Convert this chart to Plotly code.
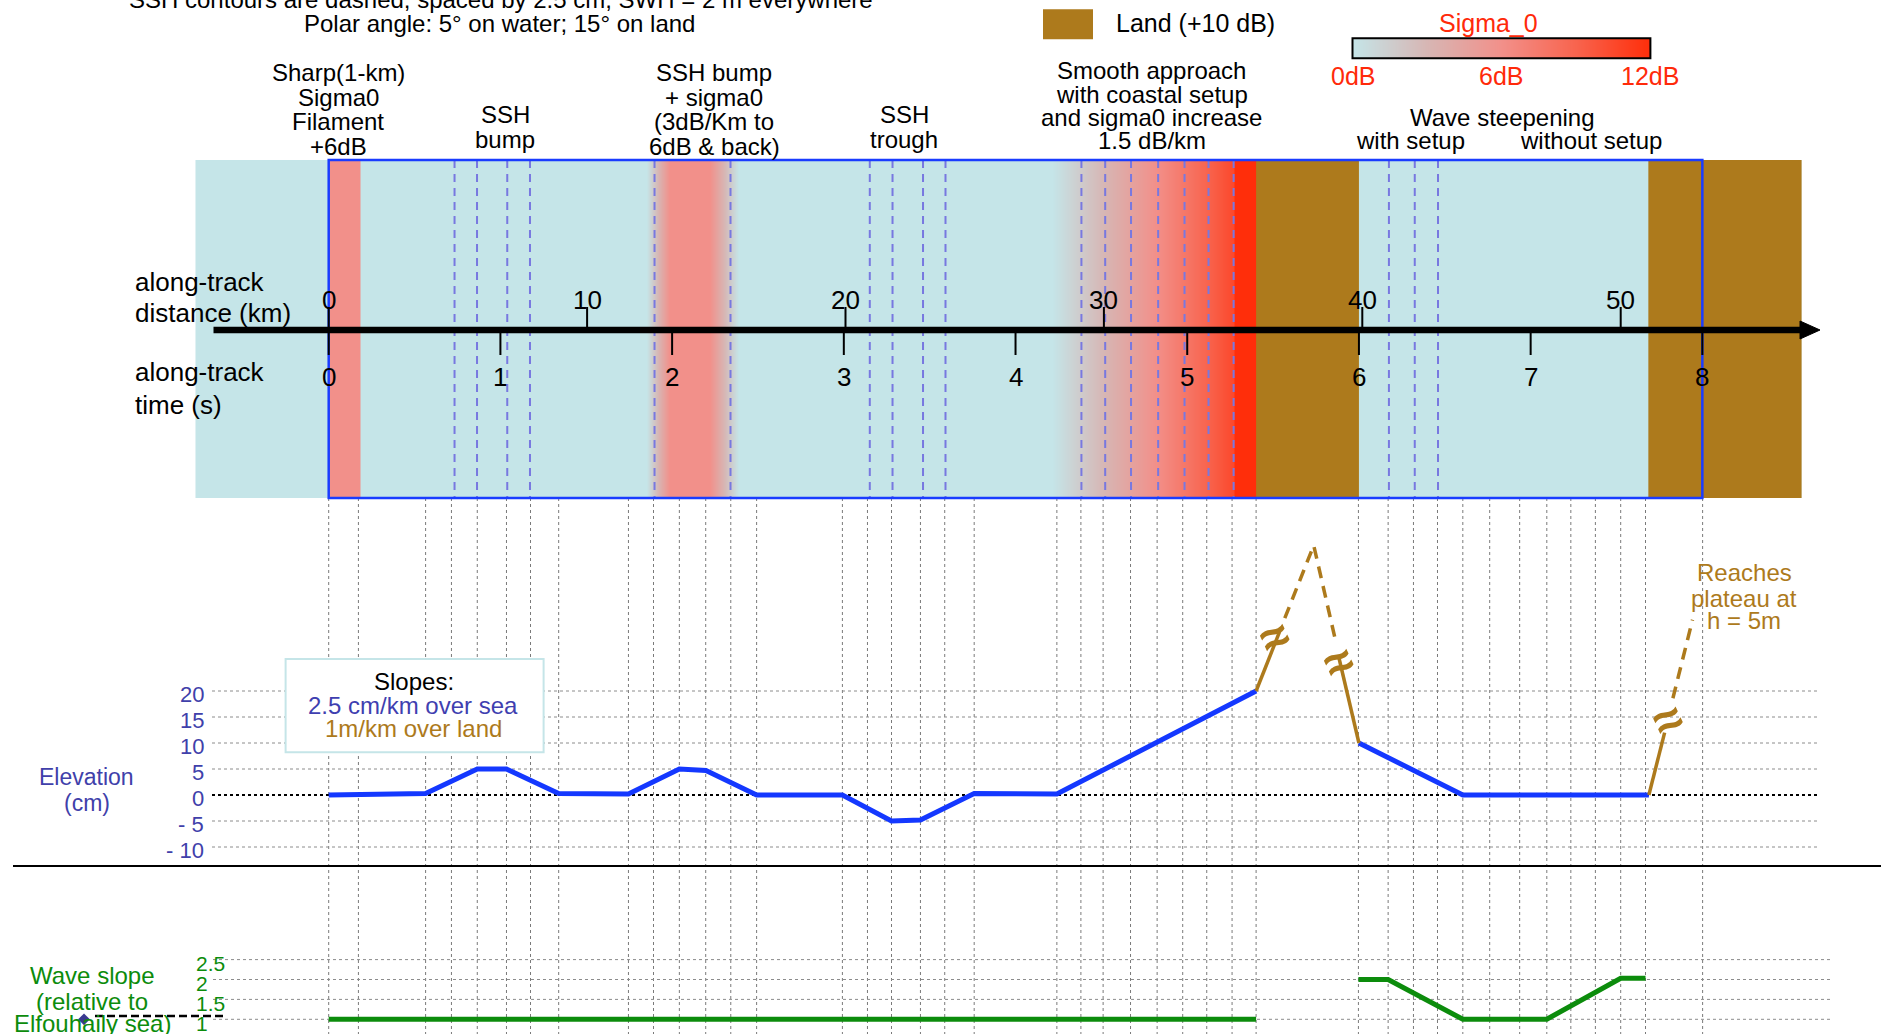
import plotly.graph_objects as go

# ---------------------------------------------------------------- data
dist_ticks_km = [0, 10, 20, 30, 40, 50]
time_ticks_s = [0, 1, 2, 3, 4, 5, 6, 7, 8]
KM_PER_S = 6.645

# sigma0 profile along track (km, dB) -- breakpoints read from the banner
sigma_km = [-5.15, -0.02, 0.0, 1.2, 1.22, 12.3, 13.2, 14.75, 15.85, 28.0, 35.0, 35.05, 35.89, 39.87, 57.0]
sigma_db = [0, 0, 6, 6, 0, 0, 6, 6, 0, 0, 10.5, 12, 12, 0, 0]

# land stretches (km)
land_start_km = [35.89, 51.07]
land_end_km = [39.87, 57.0]

# SSH contours (dashed), km
ssh_contour_km = [4.87, 5.74, 6.91, 7.79, 12.61, 15.55, 20.94, 21.82, 23.0, 23.87,
                  29.13, 30.05, 31.05, 32.1, 33.12, 34.05, 35.02, 41.03, 42.03, 42.93]

# vertical guide lines below the banner, km
guide_km = [0, 1.15, 3.75, 4.75, 5.75, 6.88, 7.81, 8.9, 11.6, 12.57, 13.57, 14.59, 15.56,
            16.56, 19.88, 20.85, 21.78, 22.9, 23.84, 24.98, 28.18, 29.11, 29.97, 31.03,
            32.06, 33.05, 33.98, 34.96, 35.89, 39.85, 41.0, 41.98, 42.91, 43.89, 44.93,
            46.09, 47.14, 48.07, 49.02, 50.0, 50.96, 53.17]

# sea-surface elevation (cm)
elev_km = [0, 3.75, 5.75, 6.88, 8.9, 11.6, 13.57, 14.6, 16.56, 19.88, 21.78, 22.9, 24.98,
           28.18, 35.89, None, 39.87, 43.89, 51.09]
elev_cm = [0, 0.3, 5, 5, 0.3, 0.2, 5, 4.7, 0, 0, -5, -4.8, 0.3, 0.2, 20, None, 10, 0, 0]

# land elevation (schematic, broken scale)
land_solid_km = [35.89, 36.8, None, 39.1, 39.87, None, 51.09, 51.7]
land_solid_cm = [20, 31.4, None, 26.3, 10, None, 0, 12.0]
land_dash_km = [37.0, 38.12, 38.95, None, 52.02, 52.78]
land_dash_cm = [34.0, 48, 30.0, None, 18.6, 33.7]
break_km = [36.62, 39.08, 51.8]
break_cm = [30.3, 25.5, 14.5]

# wave slope relative to Elfouhaily sea
wave_km = [0, 35.89, None, 39.85, 41.0, 43.89, 47.14, 50.0, 50.96]
wave_val = [1, 1, None, 2, 2, 1, 1, 2.03, 2.03]

elev_tick_vals = [20, 15, 10, 5, 0, -5, -10]
elev_tick_text = ["20", "15", "10", "5", "0", "- 5", "- 10"]
wave_tick_vals = [2.5, 2, 1.5, 1]
wave_tick_text = ["2.5", "2", "1.5", "1"]
cbar_ticks_db = [0, 6, 12]
cbar_tick_text = ["0dB", "6dB", "12dB"]

# ---------------------------------------------------------------- layout helpers
W, H = 1881, 1034
KM0_PX, PX_PER_KM = 328.7, 25.84
ELEV0_PX, PX_PER_CM = 795.0, 5.2
WAVE1_PX, PX_PER_WAVE = 1019.3, 39.8
BAN_TOP, BAN_BOT = 160.0, 498.0
AXIS_Y = 330.0

FONT = "Liberation Sans, Arial, sans-serif"
TEAL = "#C5E5E8"
BROWN = "#AD7A1C"
BLUE = "#1438FF"
PURPLE = "#4040AA"
GREEN = "#0C8C0C"
RED = "#FF2A0A"
CSCALE = [[0, TEAL], [0.25, "#D7B6B4"], [0.5, "#F2908A"], [0.75, "#F8644E"], [1, "#FF2E0A"]]


def km(xpx):
    return (xpx - KM0_PX) / PX_PER_KM


def pxx(x):
    return x / W


def pxy(y):
    return 1 - y / H


fig = go.Figure()

# ---------------------------------------------------------------- banner heatmap
hx = [sigma_km[0], sigma_km[0] + 0.01] + sigma_km[1:-1] + [sigma_km[-1] - 0.01, sigma_km[-1]]
hz = [sigma_db[0], sigma_db[0]] + sigma_db[1:-1] + [sigma_db[-1], sigma_db[-1]]
hy = [BAN_TOP + 0.25, BAN_TOP + 0.75, BAN_BOT - 0.75, BAN_BOT - 0.25]
fig.add_trace(go.Heatmap(x=hx, y=hy, z=[hz] * 4, zmin=0, zmax=12, colorscale=CSCALE,
                         zsmooth="best", showscale=False, hoverinfo="skip",
                         xaxis="x", yaxis="y"))

# colour bar (own small axes)
fig.add_trace(go.Heatmap(x=cbar_ticks_db, y=[0, 1], z=[cbar_ticks_db, cbar_ticks_db],
                         zmin=0, zmax=12, colorscale=CSCALE, zsmooth="best",
                         showscale=False, hoverinfo="skip", xaxis="x2", yaxis="y4"))

# ---------------------------------------------------------------- guide lines
gx, gy = [], []
for g in guide_km:
    gx += [g, g, None]
    gy += [BAN_BOT, H, None]
fig.add_trace(go.Scatter(x=gx, y=gy, mode="lines", yaxis="y",
                         line=dict(color="#7a7a7a", width=1, dash="dot"), hoverinfo="skip"))

ex, ey = [], []
for v in elev_tick_vals:
    if v != 0:
        ex += [km(212), km(1817), None]
        ey += [v, v, None]
fig.add_trace(go.Scatter(x=ex, y=ey, mode="lines", yaxis="y2",
                         line=dict(color="#8c8c8c", width=1, dash="dot"), hoverinfo="skip"))
fig.add_trace(go.Scatter(x=[km(212), km(1817)], y=[0, 0], mode="lines", yaxis="y2",
                         line=dict(color="black", width=2, dash="dot"), hoverinfo="skip"))

wx, wy = [], []
for v in wave_tick_vals:
    wx += [km(213), km(1833), None]
    wy += [v, v, None]
fig.add_trace(go.Scatter(x=wx, y=wy, mode="lines", yaxis="y3",
                         line=dict(color="#8c8c8c", width=1, dash="dot"), hoverinfo="skip"))
fig.add_trace(go.Scatter(x=[km(95), km(227)], y=[1.08, 1.08], mode="lines", yaxis="y3",
                         line=dict(color="black", width=2.5, dash="8px,4px"), hoverinfo="skip"))
fig.add_trace(go.Scatter(x=[km(84)], y=[1.0], mode="markers", yaxis="y3",
                         marker=dict(symbol="diamond", size=9, color="#3a3a90"), hoverinfo="skip"))

# ---------------------------------------------------------------- data lines
fig.add_trace(go.Scatter(x=elev_km, y=elev_cm, mode="lines", yaxis="y2",
                         line=dict(color=BLUE, width=5), hoverinfo="skip"))
fig.add_trace(go.Scatter(x=land_solid_km, y=land_solid_cm, mode="lines", yaxis="y2",
                         line=dict(color=BROWN, width=3.5), hoverinfo="skip"))
fig.add_trace(go.Scatter(x=land_dash_km, y=land_dash_cm, mode="lines", yaxis="y2",
                         line=dict(color=BROWN, width=3.5, dash="12px,8px"), hoverinfo="skip"))
fig.add_trace(go.Scatter(x=wave_km, y=wave_val, mode="lines", yaxis="y3",
                         line=dict(color=GREEN, width=5), hoverinfo="skip"))

# ---------------------------------------------------------------- shapes
shapes = []
for a, b in zip(land_start_km, land_end_km):
    shapes.append(dict(type="rect", xref="x", yref="y", x0=a, x1=b, y0=BAN_TOP, y1=BAN_BOT,
                       fillcolor=BROWN, line=dict(width=0), layer="above"))
for c in ssh_contour_km:
    shapes.append(dict(type="line", xref="x", yref="y", x0=c, x1=c, y0=BAN_TOP, y1=BAN_BOT,
                       line=dict(color="#7878E0", width=2, dash="8px,6px"), layer="above"))
shapes.append(dict(type="rect", xref="x", yref="y", x0=0, x1=8 * KM_PER_S, y0=BAN_TOP, y1=BAN_BOT,
                   line=dict(color="#1a3cff", width=2.5), fillcolor="rgba(0,0,0,0)", layer="above"))
# along-track axis with arrow
shapes.append(dict(type="line", xref="x", yref="y", x0=km(213.5), x1=km(1802), y0=AXIS_Y, y1=AXIS_Y,
                   line=dict(color="black", width=6.5), layer="above"))
shapes.append(dict(type="path", xref="x", yref="y",
                   path=f"M {km(1800)},{AXIS_Y - 9} L {km(1820)},{AXIS_Y} L {km(1800)},{AXIS_Y + 9} Z",
                   fillcolor="black", line=dict(color="black", width=1), layer="above"))
for d in dist_ticks_km:
    shapes.append(dict(type="line", xref="x", yref="y", x0=d, x1=d, y0=AXIS_Y, y1=AXIS_Y - 23,
                       line=dict(color="black", width=2), layer="above"))
for t in time_ticks_s:
    shapes.append(dict(type="line", xref="x", yref="y", x0=t * KM_PER_S, x1=t * KM_PER_S,
                       y0=AXIS_Y, y1=AXIS_Y + 25, line=dict(color="black", width=2), layer="above"))
# slopes box, separator, legend square, colour bar frame
shapes.append(dict(type="rect", xref="paper", yref="paper", x0=pxx(285.6), x1=pxx(543.6),
                   y0=pxy(752.3), y1=pxy(659.0), fillcolor="white", line=dict(color=TEAL, width=2),
                   layer="above"))
shapes.append(dict(type="line", xref="paper", yref="paper", x0=pxx(13), x1=1, y0=pxy(866), y1=pxy(866),
                   line=dict(color="black", width=2), layer="above"))
shapes.append(dict(type="rect", xref="paper", yref="paper", x0=pxx(1043), x1=pxx(1093),
                   y0=pxy(39.3), y1=pxy(9.3), fillcolor=BROWN, line=dict(width=0), layer="above"))
shapes.append(dict(type="rect", xref="paper", yref="paper", x0=pxx(1352.5), x1=pxx(1650.4),
                   y0=pxy(58.3), y1=pxy(38.3), line=dict(color="black", width=2),
                   fillcolor="rgba(0,0,0,0)", layer="above"))

# ---------------------------------------------------------------- text
ann = []


def text(x, y, s, color="black", size=24, xanchor="center"):
    ann.append(dict(x=pxx(x), y=pxy(y), xref="paper", yref="paper", text=s, showarrow=False,
                    xanchor=xanchor, yanchor="middle", font=dict(family=FONT, size=size, color=color)))


def lines(x, ys, strs, color="black", size=24, xanchor="center"):
    for y, s in zip(ys, strs):
        text(x, y, s, color, size, xanchor)


text(500.6, -0.7, "SSH contours are dashed, spaced by 2.5 cm; SWH = 2 m everywhere")
text(499.6, 24, "Polar angle: 5° on water; 15° on land")
lines(338, [72.5, 97.5, 122, 146.5], ["Sharp(1-km)", "Sigma0", "Filament", "+6dB"])
lines(505.5, [115, 139.5], ["SSH", "bump"])
lines(714, [72.5, 97, 122, 146.5], ["SSH bump", "+ sigma0", "(3dB/Km to", "6dB &amp; back)"])
lines(904, [115, 139.5], ["SSH", "trough"])
lines(1151.5, [70.7, 94.6, 117, 140.7],
      ["Smooth approach", "with coastal setup", "and sigma0 increase", "1.5 dB/km"])
text(1502.8, 117, "Wave steepening")
text(1410.6, 140.7, "with setup")
text(1591, 140.7, "without setup")
text(1113.9, 23.3, "Land (+10 dB)", size=25, xanchor="left")
text(1488, 22.7, "Sigma_0", color=RED, size=25)
lines(133, [281.7, 313.3], ["along-track", "distance (km)"], size=26, xanchor="left")
lines(133, [371.7, 405], ["along-track", "time (s)"], size=26, xanchor="left")
lines(86.5, [777, 803], ["Elevation", "(cm)"], color=PURPLE, size=23)
text(414, 681.4, "Slopes:")
text(413, 705.4, "2.5 cm/km over sea", color="#3F3FB0")
text(413, 728.4, "1m/km over land", color=BROWN)
lines(1744.4, [572.7, 598.3, 620], ["Reaches", "plateau at", "h = 5m"], color=BROWN)
lines(92, [975.6, 1001.7, 1023], ["Wave slope", "(relative to", "Elfouhaily sea)"], color=GREEN)

# colour bar tick labels (positioned on the colour-bar axis)
for v, s in zip(cbar_ticks_db, cbar_tick_text):
    ann.append(dict(x=v, y=pxy(76), xref="x2", yref="paper", text=s, showarrow=False,
                    xanchor="center", yanchor="middle", font=dict(family=FONT, size=25, color=RED)))

# along-track tick labels
for d in dist_ticks_km:
    ann.append(dict(x=d, y=300, xref="x", yref="y", text=str(d), showarrow=False,
                    xanchor="center", yanchor="middle", font=dict(family=FONT, size=26, color="black")))
for t in time_ticks_s:
    ann.append(dict(x=t * KM_PER_S, y=376.7, xref="x", yref="y", text=str(t), showarrow=False,
                    xanchor="center", yanchor="middle", font=dict(family=FONT, size=26, color="black")))

# elevation / wave-slope tick labels
for v, s in zip(elev_tick_vals, elev_tick_text):
    ann.append(dict(x=pxx(206), y=v, xref="paper", yref="y2", text=s, showarrow=False, yshift=-3,
                    xanchor="right", yanchor="middle", font=dict(family=FONT, size=22, color=PURPLE)))
for v, s in zip(wave_tick_vals, wave_tick_text):
    ann.append(dict(x=pxx(194), y=v, xref="paper", yref="y3", text=s, showarrow=False, yshift=-4,
                    xanchor="left", yanchor="middle", font=dict(family=FONT, size=21, color=GREEN)))

# scale-break marks on the land profile
for bx, by in zip(break_km, break_cm):
    ann.append(dict(x=bx, y=by, xref="x", yref="y2", text="<b>≈</b>", showarrow=False, textangle=-25,
                    xanchor="center", yanchor="middle", font=dict(family=FONT, size=50, color=BROWN)))

# ---------------------------------------------------------------- axes
fig.update_layout(
    width=W, height=H, margin=dict(l=0, r=0, t=0, b=0),
    paper_bgcolor="white", plot_bgcolor="white", showlegend=False, hovermode=False,
    xaxis=dict(domain=[0, 1], range=[km(0), km(W)], visible=False, fixedrange=True),
    yaxis=dict(domain=[0, 1], range=[H, 0], visible=False, fixedrange=True),
    yaxis2=dict(overlaying="y", anchor="x", visible=False, fixedrange=True,
                range=[(ELEV0_PX - H) / PX_PER_CM, ELEV0_PX / PX_PER_CM]),
    yaxis3=dict(overlaying="y", anchor="x", visible=False, fixedrange=True,
                range=[1 + (WAVE1_PX - H) / PX_PER_WAVE, 1 + WAVE1_PX / PX_PER_WAVE]),
    xaxis2=dict(domain=[pxx(1352.5), pxx(1650.4)], range=[0, 12], anchor="y4", visible=False,
                fixedrange=True),
    yaxis4=dict(domain=[pxy(58.3), pxy(38.3)], range=[0, 1], anchor="x2", visible=False,
                fixedrange=True),
    shapes=shapes, annotations=ann,
)

fig.write_html("out.html", config={"displayModeBar": False},
               post_script="document.body.style.margin='0';document.body.style.overflow='hidden';")
